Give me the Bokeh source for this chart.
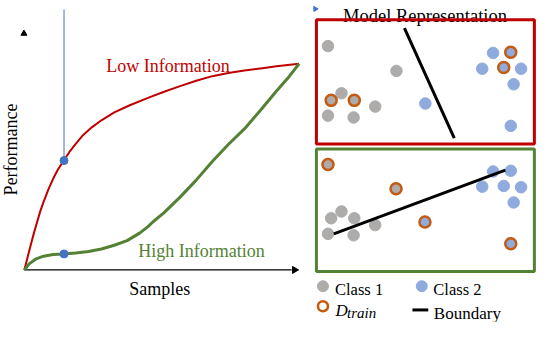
import math
from bokeh.plotting import figure
from bokeh.models import Range1d
from bokeh.core.properties import value
from bokeh.embed import file_html
from bokeh.resources import INLINE

# ---- data (in the diagram's pixel frame) ----
# Performance vs samples curves
low_x = [21.7, 25.0, 28.3, 31.7, 35.0, 38.3, 41.7, 46.7, 51.7, 56.7, 62.7, 68.3, 75.0, 81.7, 91.7,
         101.7, 115.0, 131.7, 150.0, 166.7, 183.3, 200.0, 216.7, 233.3, 250.0, 266.7, 283.3, 306.7]
low_y = [286.7, 273.3, 260.0, 246.7, 235.0, 223.3, 213.3, 200.0, 188.3, 178.3, 169.0, 160.0, 151.0, 142.7, 133.3,
         125.7, 117.3, 109.3, 101.7, 95.0, 89.0, 83.3, 78.3, 75.0, 72.3, 70.0, 67.7, 65.0]
high_x = [21.7, 26.7, 33.3, 41.7, 51.7, 62.7, 75.0, 88.3, 101.7, 115.0, 128.3, 141.7, 150.0, 155.0, 166.7,
          183.3, 200.0, 216.7, 233.3, 250.0, 266.7, 283.3, 296.7, 306.7]
high_y = [286.7, 280.0, 275.0, 271.7, 270.0, 269.3, 268.3, 266.7, 264.0, 260.0, 255.0, 246.7, 240.0, 235.0, 225.0,
          208.3, 190.0, 170.0, 151.7, 135.0, 115.0, 94.3, 78.3, 65.0]
budget_x = [62.9, 62.9]
budget_y = [169, 269.3]

# Low-information model representation (top panel)
low_c1_x = [336.7, 407.7, 350.7, 340.0, 364.0, 385.7, 336.7, 363.3]
low_c1_y = [46.0, 72.7, 96.7, 104.3, 104.3, 111.0, 120.7, 122.7]
low_c2_x = [437.7, 508.0, 526.3, 496.7, 519.0, 537.0, 529.3, 526.3]
low_c2_y = [107.7, 53.3, 52.7, 70.3, 69.0, 70.3, 87.0, 131.7]
low_train_x = [340.0, 364.0, 526.3, 519.0]
low_train_y = [104.3, 104.3, 52.7, 69.0]
low_boundary_x = [416.0, 467.7]
low_boundary_y = [26.7, 145.0]

# High-information model representation (bottom panel)
high_c1_x = [336.7, 407.3, 350.7, 340.0, 364.0, 385.7, 336.7, 363.3]
high_c1_y = [173.3, 199.3, 223.7, 231.0, 231.0, 238.3, 247.7, 249.3]
high_c2_x = [437.3, 508.0, 526.3, 496.7, 519.0, 537.0, 529.3, 526.3]
high_c2_y = [235.0, 180.7, 180.0, 197.0, 196.3, 197.7, 214.0, 258.3]
high_train_x = [336.7, 407.3, 437.3, 526.3]
high_train_y = [173.3, 199.3, 235.0, 258.3]
high_boundary_x = [342.7, 520.7]
high_boundary_y = [247.7, 179.3]

# ---- colours ----
RED = "#C00000"
GREEN = "#548235"
BLUE = "#4472C4"
LBLUE = "#8FAADC"
GRAY = "#AEABAB"
ORANGE = "#C55A11"
SERIF = value("Liberation Serif")

p = figure(width=536, height=322, output_backend="svg", toolbar_location=None,
           x_range=Range1d(-3, 553), y_range=Range1d(343, -3),
           x_axis_type=None, y_axis_type=None, min_border=0)
p.outline_line_color = None
p.xgrid.visible = False
p.ygrid.visible = False

# ---- left: performance curves ----
p.line([21.7, 299], [286.5, 286.5], line_color="black", line_width=1.2)
p.scatter([302], [286.5], marker="triangle", angle=-math.pi / 2, size=7, color="black")
p.scatter([21.3], [32.5], marker="triangle", size=6, color="black")
p.line([62.9, 62.9], [6.7, 169], line_color=BLUE, line_width=1)
p.line(low_x, low_y, line_color=RED, line_width=2)
p.line(high_x, high_y, line_color=GREEN, line_width=3)
p.scatter(budget_x, budget_y, size=8, color=BLUE)

p.text([170.7], [67.7], text=["Low Information"], text_color=RED, text_font=SERIF,
       text_font_size="18px", text_align="center", text_baseline="alphabetic")
p.text([205.5], [265.7], text=["High Information"], text_color=GREEN, text_font=SERIF,
       text_font_size="18px", text_align="center", text_baseline="alphabetic")
p.text([162.3], [307.5], text=["Samples"], text_color="black", text_font=SERIF,
       text_font_size="18px", text_align="center", text_baseline="alphabetic")
p.text([7.5], [157], text=["Performance"], text_color="black", text_font=SERIF,
       text_font_size="18px", text_align="center", text_baseline="middle", angle=math.pi / 2)

# ---- right: model representations ----
p.scatter([323.5], [6], marker="triangle", angle=-math.pi / 2, size=5, color=BLUE)
p.text([437.3], [14], text=["Model Representation"], text_color="black", text_font=SERIF,
       text_font_size="18.5px", text_align="center", text_baseline="alphabetic")

p.quad(left=[324.7], right=[550.8], top=[17.7], bottom=[151.3], fill_color=None,
       line_color=RED, line_width=3)
p.quad(left=[324.7], right=[550.8], top=[156.7], bottom=[288.3], fill_color=None,
       line_color=GREEN, line_width=3)

for c1x, c1y, c2x, c2y, tx, ty, bx, by in [
        (low_c1_x, low_c1_y, low_c2_x, low_c2_y, low_train_x, low_train_y, low_boundary_x, low_boundary_y),
        (high_c1_x, high_c1_y, high_c2_x, high_c2_y, high_train_x, high_train_y, high_boundary_x, high_boundary_y)]:
    p.scatter(c1x, c1y, size=11.5, color=GRAY)
    p.scatter(c2x, c2y, size=11.5, color=LBLUE)
    p.scatter(tx, ty, size=11, fill_color=None, line_color=ORANGE, line_width=2.5)
    p.line(bx, by, line_color="black", line_width=3)

# ---- legend ----
p.scatter([331.5], [304], size=11, color=GRAY)
p.text([344], [308], text=["Class 1"], text_color="black", text_font=SERIF,
       text_font_size="16.5px", text_align="left", text_baseline="alphabetic")
p.scatter([434], [304], size=11, color=LBLUE)
p.text([446], [308], text=["Class 2"], text_color="black", text_font=SERIF,
       text_font_size="16.5px", text_align="left", text_baseline="alphabetic")
p.scatter([331.5], [325.5], size=10, fill_color=None, line_color=ORANGE, line_width=2.5)
p.text([344.5], [330], text=["D"], text_color="black", text_font=SERIF,
       text_font_size="17px", text_font_style="italic", text_align="left", text_baseline="alphabetic")
p.text([356.5], [333], text=["train"], text_color="black", text_font=SERIF,
       text_font_size="15px", text_font_style="italic", text_align="left", text_baseline="alphabetic")
p.line([424.3, 440.7], [329.5, 329.5], line_color="black", line_width=3)
p.text([446.5], [333], text=["Boundary"], text_color="black", text_font=SERIF,
       text_font_size="17px", text_align="left", text_baseline="alphabetic")

open("out.html", "w").write(file_html(p, INLINE))
